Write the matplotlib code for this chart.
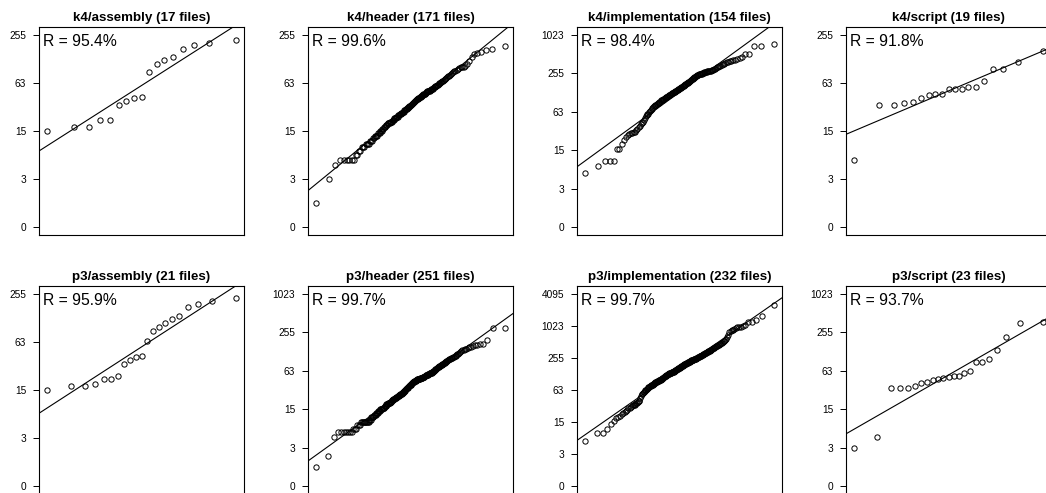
"""Normal Q-Q plots of file sizes (log2 scale) for k4 and p3, one panel per file kind."""
from statistics import NormalDist

import matplotlib
matplotlib.use("Agg")
import matplotlib.pyplot as plt
import numpy as np

plt.rcParams["font.family"] = ["Liberation Sans", "DejaVu Sans"]

# sorted sizes per panel
k4_assembly = [15, 17, 17, 21, 21, 33, 37, 40, 42, 86, 110, 123, 135, 170, 188, 203, 221]
k4_header = [1, 3, 5, 6, 6, 6, 6, 6, 6, 7, 7, 8, 8, 9, 9, 9, 10, 10, 10, 10, 11, 11, 11,
             12, 12, 13, 13, 13, 13, 14, 14, 14, 15, 15, 15, 16, 16, 17, 17, 17, 18, 18, 18, 19, 19,
             19, 19, 20, 20, 20, 20, 21, 21, 21, 22, 22, 22, 22, 23, 23, 23, 24, 24, 24, 25, 25, 25, 26, 26,
             26, 27, 27, 27, 28, 28, 28, 29, 29, 29, 30, 30, 31, 31, 32, 32, 33, 33, 34, 34, 35, 35, 36, 36,
             37, 37, 38, 38, 39, 39, 39, 40, 40, 40, 41, 42, 42, 43, 43, 44, 44, 45, 45, 46, 46, 47,
             48, 48, 49, 49, 49, 50, 50, 51, 51, 52, 52, 53, 54, 55, 56, 57, 57, 58, 59, 60, 61, 62,
             63, 64, 65, 66, 67, 68, 70, 71, 72, 74, 76, 78, 80, 82, 84, 86, 88, 90, 92, 95, 97,
             99, 100, 101, 103, 110, 118, 135, 148, 152, 155, 163, 168, 186]
k4_implementation = [6, 8, 10, 10, 10, 16, 16, 19, 22, 25, 27, 28, 29, 29, 30, 30, 32, 34, 36, 38, 40, 41,
                     44, 47, 50, 53, 55, 57, 59, 62, 65, 68, 70, 72, 75, 77, 79, 80, 82, 83, 84, 86,
                     88, 89, 91, 93, 95, 96, 98, 99, 101, 103, 104, 106, 108, 109, 111, 113, 114, 116, 118, 120, 121, 123,
                     125, 126, 128, 130, 131, 133, 134, 136, 138, 140, 142, 144, 146, 148, 150, 152, 154, 156, 158, 160, 162, 164, 167,
                     170, 173, 176, 179, 182, 185, 188, 191, 194, 197, 200, 204, 208, 212, 216, 220, 224, 228, 232, 236, 240,
                     242, 244, 246, 248, 250, 252, 255, 258, 261, 264, 266, 268, 270, 272, 274, 276, 278, 280, 282, 284, 287,
                     294, 300, 308, 315, 322, 330, 337, 344, 352, 360, 368, 378, 387, 395, 400, 406, 412,
                     430, 446, 464, 510, 512, 689, 690, 723]
k4_script = [6, 33, 33, 35, 36, 40, 44, 46, 46, 52, 53, 53, 55, 56, 66, 94, 95, 116, 160]
p3_assembly = [15, 17, 17, 18, 21, 21, 23, 33, 37, 40, 41, 65, 86, 98, 108, 122, 134, 173, 188, 204, 225]
p3_header = [1, 2, 5, 6, 6, 6, 6, 6, 6, 6, 7, 7, 7, 8, 8, 8, 9, 9, 9, 9, 9, 9, 9, 9, 9, 9,
             10, 10, 10, 11, 11, 11, 11, 12, 12, 12, 12, 13, 13, 13, 13, 14, 14, 14, 14, 15, 15, 15, 15, 15,
             16, 16, 16, 16, 17, 17, 17, 17, 18, 18, 18, 18, 19, 19, 19,
             19, 19, 20, 20, 20, 20, 21, 21, 21, 21, 22, 22, 22, 22, 23, 23, 23,
             23, 24, 24, 24, 24, 25, 25, 25, 25, 26, 26, 26, 26, 27, 27, 27, 27, 28, 28,
             28, 29, 29, 29, 30, 30, 30, 31, 31, 32, 32, 32, 33, 33, 34, 34, 35, 35, 36, 36,
             36, 37, 37, 38, 38, 38, 39, 39, 40, 40, 40, 41, 41, 42, 42, 42, 43, 43, 44, 44,
             44, 45, 45, 45, 45, 46, 46, 46, 46, 47, 47, 47, 47, 48, 48, 48, 48, 49, 49, 49,
             50, 50, 50, 51, 51, 51, 52, 52, 52, 53, 53, 53, 54, 54, 54, 55, 55, 55,
             56, 57, 57, 58, 58, 59, 59, 60, 61, 61, 62, 63, 63, 64, 65, 66,
             67, 68, 69, 70, 71, 72, 73, 74, 75, 76, 77, 78, 79, 80,
             81, 82, 83, 84, 85, 87, 88, 89, 91, 92, 94, 96, 97, 98, 99, 100, 101, 103, 104, 106, 108,
             112, 115, 118, 122, 126, 130, 133, 136, 138, 141, 144, 147, 150, 154, 158, 162,
             164, 166, 194, 301, 301]
p3_implementation = [6, 9, 9, 11, 14, 16, 18, 19, 20, 22, 23, 24, 25, 26, 28, 29, 30,
                     31, 32, 32, 33, 34, 35, 36, 37, 38, 39, 44, 48,
                     52, 54, 55, 57, 58, 60, 62, 63, 65, 67, 69, 71, 72, 73, 74, 75, 77, 78, 79, 80, 82, 83, 85, 86,
                     87, 88, 89, 90, 91, 92, 93, 94, 95, 96, 97, 97, 98, 99, 100,
                     102, 103, 105, 106, 108, 109, 111, 112, 114, 115, 117, 118, 120, 121, 123, 125,
                     126, 127, 128, 129, 130, 131, 132, 133, 134, 135, 136, 137, 138, 139, 140, 141, 142, 144,
                     145, 147, 148, 150, 152, 153, 155, 157, 158, 160, 162, 163, 165, 166, 168, 170, 171, 173, 175,
                     177, 179, 181, 183, 185, 187, 189, 191, 193, 195, 196, 198, 200, 201, 203, 204, 206, 208,
                     210, 212, 214, 216, 218, 220, 222, 224, 226, 228, 230, 231, 233, 235, 237, 238, 240, 241,
                     243, 245, 248, 250, 253, 255, 258, 260, 263, 265, 268, 271, 274, 276, 279,
                     282, 286, 289, 293, 296, 300, 304, 308, 311, 315, 318, 322, 325, 329, 332,
                     337, 342, 348, 354, 360, 366, 372, 378, 385, 392, 400,
                     406, 413, 420, 427, 434, 442, 450, 459, 468, 477,
                     490, 505, 520, 538, 556, 576, 640, 700, 770, 831, 850, 870, 890,
                     930, 960, 985, 990, 1000, 1040, 1226, 1230, 1340, 1594, 2539]
p3_script = [3, 5, 33, 34, 34, 36, 40, 42, 45, 47, 48, 51, 52, 52, 57, 62, 86, 86, 96, 132, 217, 352, 366]

NAMES = ["k4/assembly", "k4/header", "k4/implementation", "k4/script",
         "p3/assembly", "p3/header", "p3/implementation", "p3/script"]
SERIES = [k4_assembly, k4_header, k4_implementation, k4_script,
          p3_assembly, p3_header, p3_implementation, p3_script]
R_LABELS = ["R = 95.4%", "R = 99.6%", "R = 98.4%", "R = 91.8%",
            "R = 95.9%", "R = 99.7%", "R = 99.7%", "R = 93.7%"]


def qnorm_points(n):
    a = 3 / 8 if n <= 10 else 0.5
    p = (np.arange(1, n + 1) - a) / (n + 1 - 2 * a)
    return np.array([NormalDist().inv_cdf(v) for v in p])


W, H = 1046, 493
LEFTS = [39, 308, 577, 846]
TOPS = [27, 286]
AW, AH = 205, 208

fig = plt.figure(figsize=(W / 100, H / 100), dpi=100)
for k, (name, counts, rlab) in enumerate(zip(NAMES, SERIES, R_LABELS)):
    r, c = divmod(k, 4)
    ax = fig.add_axes([LEFTS[c] / W, (H - TOPS[r] - AH) / H, AW / W, AH / H])
    y = np.log2(np.array(counts, dtype=float) + 1)
    x = qnorm_points(len(y))
    ax.plot(x, y, "o", mfc="none", mec="black", ms=3.8, mew=0.7)
    m, b = np.polyfit(x, y, 1)
    ax.axline((0, b), slope=m, color="black", lw=0.8)
    top = 2 * np.ceil(y.max() / 2)
    ax.set_ylim(-0.04 * top, 1.04 * top)
    ax.set_xlim(-1.08 * x.max(), 1.08 * x.max())
    ticks = np.arange(0, top + 1, 2)
    ax.set_yticks(ticks)
    ax.set_yticklabels([str(int(2 ** t - 1)) for t in ticks])
    ax.set_xticks([])
    ax.tick_params(axis="y", length=4.1, width=0.7, pad=5, labelsize=7.3)
    for s in ax.spines.values():
        s.set_linewidth(0.8)
    ax.set_title(f"{name} ({len(counts)} files)", fontsize=9.6, fontweight="bold", pad=4.5)
    ax.text(0.02, 0.965, rlab, transform=ax.transAxes, ha="left", va="top", fontsize=11.3)

fig.savefig("out.png", dpi=100)
